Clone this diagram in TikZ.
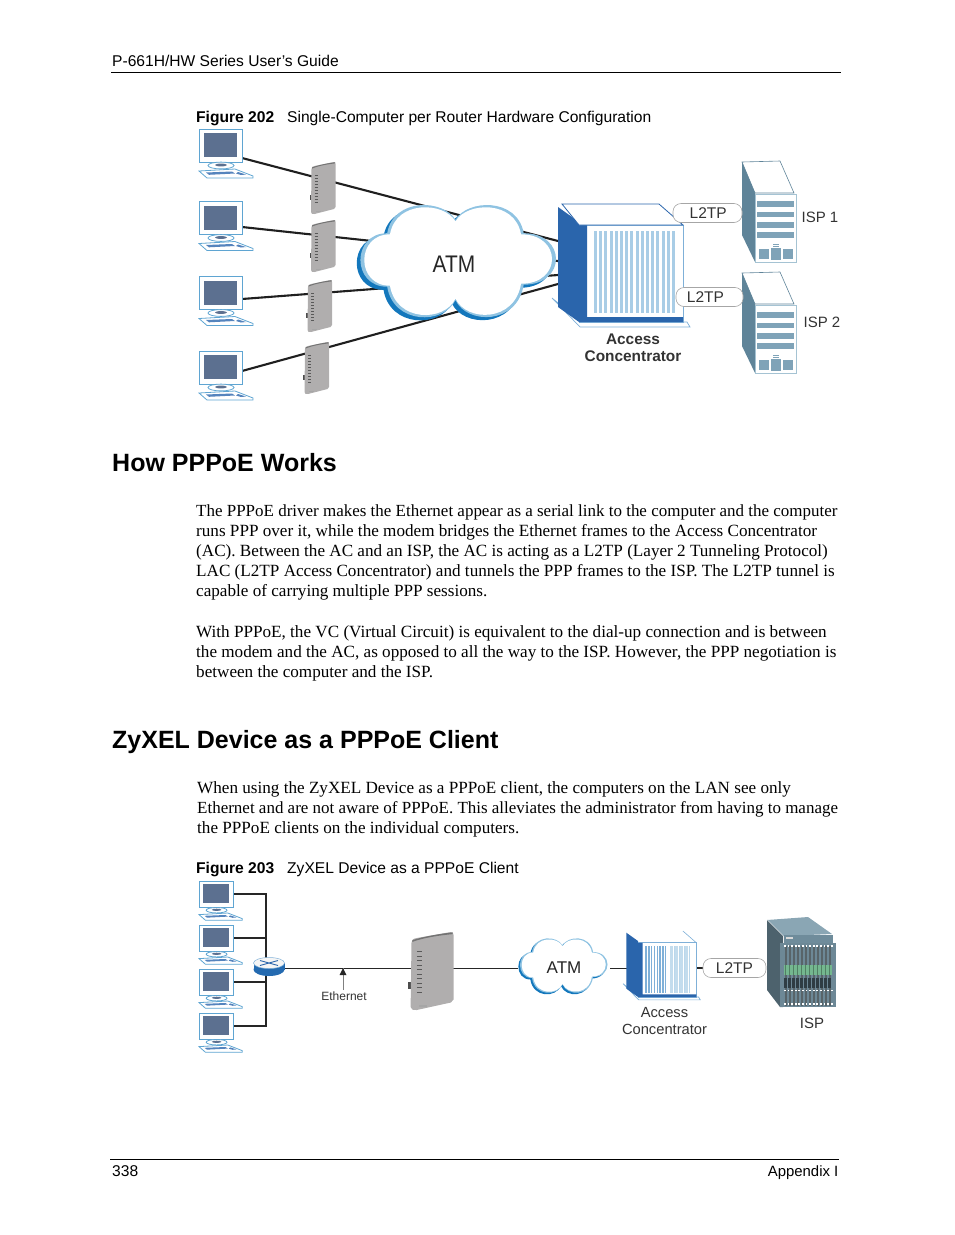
\documentclass[tikz,border=0pt]{standalone}
\usepackage{fontspec}
\setmainfont{Liberation Serif}
\newfontfamily\arialf{Liberation Sans}
\definecolor{pcblue}{HTML}{5FA5D2}
\definecolor{screen}{HTML}{5C7090}
\definecolor{cldark}{HTML}{1377BC}
\definecolor{cllight}{HTML}{8FC3E2}
\definecolor{acdark}{HTML}{2A65AC}
\definecolor{acbar}{HTML}{A9CDE6}
\definecolor{acline}{HTML}{7FB0D8}
\definecolor{srvside}{HTML}{5F8499}
\definecolor{srvbar}{HTML}{7FA3B8}
\definecolor{srvline}{HTML}{A5C3D3}
\definecolor{modem}{HTML}{B0AEAE}
\definecolor{racktop}{HTML}{8AA6B4}
\definecolor{rackside}{HTML}{4D626D}
\definecolor{rackhead}{HTML}{6F8C9B}
\definecolor{rackbody}{HTML}{6D8896}
\definecolor{rackgreen}{HTML}{74B78F}
\definecolor{rackdark}{HTML}{2F3D44}
\tikzset{
  x=1pt,y=-1pt,
  wire/.style={draw=black!88,line width=2.1pt},
  wire2/.style={draw=black!85,line width=1.5pt},
  pill/.style={draw=black!35,fill=white,rounded corners=8pt,line width=.6pt,minimum height=19pt,inner sep=0pt,font=\arialf\fontsize{15.5}{18}\selectfont,text=black!80},
  t/.style={inner sep=0pt,anchor=base west},
  bodyt/.style={t,font=\fontsize{17.13}{20}\selectfont},
  bodytight/.style={t,font=\fontsize{16.98}{20}\selectfont},
  sans/.style={t,font=\arialf\fontsize{15.6}{18}\selectfont},
  head/.style={t,font=\arialf\bfseries\fontsize{25}{30}\selectfont},
  lab/.style={inner sep=0pt,font=\arialf\fontsize{15}{18}\selectfont,text=black!80}
}
\newcommand{\pcicon}[4]{%
\begin{scope}[shift={(#2,#3)},scale=#4]
 \path[draw=pcblue,fill=white,line width=.9pt] (0,0) rectangle (43,33);
 \fill[screen] (5,4) rectangle (38,28);
 \path[draw=pcblue,fill=white,line width=.8pt] (22,36.5) ellipse (13 and 3.4);
 \fill[screen] (22,36) ellipse (6 and 1.4);
 \path[draw=pcblue,fill=white,line width=.8pt] (0,42)--(36,40)--(54,47)--(54,49)--(8,49)--cycle;
 \fill[acdark!80] (7,43.5)--(33,42.5)--(36,44.5)--(10,45.8)--cycle;
 \fill[acdark!80] (39,43)--(47,45.5)--(42,46)--(37,44.5)--cycle;
 \coordinate (#1) at (43,29);
\end{scope}}
\newcommand{\modemicon}[4]{%
\begin{scope}[shift={(#2,#3)},#4]
 \fill[black!70] (.2,33) rectangle (2,38);
 \path[fill=modem] (2,7) .. controls (2,5) and (3,4.5) .. (5,4) -- (24.5,0) .. controls (25.5,-.2) and (26,.5) .. (26,2) -- (26,45) -- (24.5,47) -- (5,52) .. controls (3,52) and (1.5,52) .. (1.5,50) -- cycle;
 \fill[black!55] (2.5,5.5) .. controls (8,3.2) and (20,.8) .. (25.5,.3) -- (25.5,1.4) .. controls (18,2.2) and (8,4) .. (2.5,6.6) -- cycle;
 \foreach \k in {0,...,9} \draw[black!65,line width=.7pt] (5,{13+3*\k}) -- (8,{13+3*\k});
 \fill[black!35] (6,48.5) rectangle (11,50);
\end{scope}}
\newcommand{\cloudpath}{(-1,-40) .. controls (-12,-60) and (-60,-62) .. (-66,-27) .. controls (-100,-27) and (-100,25) .. (-66,25) .. controls (-60,62) and (-12,62) .. (-1,38) .. controls (10,62) and (58,62) .. (64,23) .. controls (105,23) and (105,-27) .. (64,-27) .. controls (58,-62) and (10,-60) .. (-1,-40) -- cycle}
\newcommand{\cloudicon}[4]{%
\begin{scope}[shift={(#1,#2)},xscale=#3,yscale=#4]
 \begin{scope}[shift={(-3.5,3)}]\fill[cldark] \cloudpath;\end{scope}
 \fill[cllight] \cloudpath;
 \begin{scope}[scale=.96]\fill[white] \cloudpath;\end{scope}
\end{scope}}
\newcommand{\acicon}[4]{%
\begin{scope}[shift={(#1,#2)},scale=#3]
 \path[draw=acline,fill=white,line width=.7pt] (0,94)--(28,123)--(138,123)--(135,118)--(30,118)--cycle;
 \fill[acdark] (6,3)--(27,18)--(27,118)--(6,103)--cycle;
 \path[draw=acline,fill=white,line width=.7pt] (27,21) rectangle (131,118);
 \fill[acdark] (27,21)--(35,21)--(35,113)--(131,113)--(131,118)--(27,118)--cycle;
 #4
\end{scope}}
\newcommand{\srvicon}[2]{%
\begin{scope}[shift={(#1,#2)}]
 \path[draw=srvside,fill=white,line width=.6pt] (0,0)--(38,-1)--(52,31)--(13,31)--cycle;
 \fill[srvside] (0,0)--(13,31)--(13,100)--(0,73)--cycle;
 \path[draw=srvline,fill=white,line width=1pt] (13,32) rectangle (54,100);
 \foreach \a/\b in {38.5/45,50/55,60/66,70/76} \fill[srvbar] (15,\a) rectangle (52,\b);
 \fill[srvbar] (17,87) rectangle (27,97);
 \fill[srvbar] (29,86) rectangle (39,98);
 \fill[srvbar] (41,87) rectangle (51,97);
 \draw[srvbar,line width=.7pt] (31,82)--(37,82) (31,84)--(37,84);
\end{scope}}
\begin{document}
\begin{tikzpicture}
\useasboundingbox (0,0) rectangle (954,1235);
% page furniture
\node[sans] (hdr) at (112,66) {P-661H/HW Series User’s Guide};
\draw[line width=.8pt] (111,72.5) -- (841,72.5);
\node[sans] (c1a) at (196,122) {\bfseries Figure 202};
\node[sans] (c1b) at (287,122) {Single-Computer per Router Hardware Configuration};
\node[head] (h1) at (112,471) {How PPPoE Works};
\node[bodytight] (b1) at (196,516) {The PPPoE driver makes the Ethernet appear as a serial link to the computer and the computer};
\node[bodyt] (b2) at (196,536) {runs PPP over it, while the modem bridges the Ethernet frames to the Access Concentrator};
\node[bodyt] (b3) at (196,556) {(AC). Between the AC and an ISP, the AC is acting as a L2TP (Layer 2 Tunneling Protocol)};
\node[bodyt] (b4) at (196,576) {LAC (L2TP Access Concentrator) and tunnels the PPP frames to the ISP. The L2TP tunnel is};
\node[bodyt] (b5) at (196,596) {capable of carrying multiple PPP sessions.};
\node[bodyt] (b6) at (196,637) {With PPPoE, the VC (Virtual Circuit) is equivalent to the dial-up connection and is between};
\node[bodyt] (b7) at (196,657) {the modem and the AC, as opposed to all the way to the ISP. However, the PPP negotiation is};
\node[bodyt] (b8) at (196,677) {between the computer and the ISP.};
\node[head] (h2) at (112,748) {ZyXEL Device as a PPPoE Client};
\node[bodyt] (b9) at (197,793) {When using the ZyXEL Device as a PPPoE client, the computers on the LAN see only};
\node[bodytight] (b10) at (197,813) {Ethernet and are not aware of PPPoE. This alleviates the administrator from having to manage};
\node[bodyt] (b11) at (197,833) {the PPPoE clients on the individual computers.};
\node[sans] (c2a) at (196,873) {\bfseries Figure 203};
\node[sans] (c2b) at (287,873) {ZyXEL Device as a PPPoE Client};
\draw[line width=.8pt] (110,1159.5) -- (839,1159.5);
\node[sans] (pg) at (112,1176) {338};
\node[sans,anchor=base east,font=\arialf\fontsize{14.9}{18}\selectfont] (app) at (838.5,1176) {Appendix I};
% ---------- Figure 202 ----------
\coordinate (a1) at (558,241);
\coordinate (a2) at (558,261);
\coordinate (a3) at (558,275);
\coordinate (a4) at (558,284);
\coordinate (p1) at (242,158);
\coordinate (p2) at (242,227);
\coordinate (p3) at (242,299);
\coordinate (p4) at (242,371);
\draw[wire] (p1) -- (a1);
\draw[wire] (p2) -- (a2);
\draw[wire] (p3) -- (a3);
\draw[wire] (p4) -- (a4);
\pcicon{pc1}{199}{129}{1}
\pcicon{pc2}{199}{201.5}{1}
\pcicon{pc3}{199}{276.5}{1}
\pcicon{pc4}{199}{351}{1}
\modemicon{m1}{309.5}{162}{scale=1}
\modemicon{m2}{309.5}{220}{scale=1}
\modemicon{m3}{306}{280}{scale=1}
\modemicon{m4}{303}{342}{scale=1}
\cloudicon{456.5}{261}{1.05}{1.03}
\node[inner sep=0pt,font=\arialf\fontsize{24}{28}\selectfont,text=black!85] (atm1) at (454,264) {\scalebox{.87}[1]{ATM}};
\acicon{552}{204}{1}{
 \path[draw=acdark,fill=white,line width=.8pt] (10,0)--(107,0)--(131,21)--(27,21)--cycle;
 \foreach \k in {0,...,15} \fill[acbar] ({42+5.2*\k},27) rectangle ++(3,82);
}
\srvicon{742}{162}
\srvicon{742}{273}
\node[pill,minimum width=69pt] (l1) at (707.5,213) {\hspace{1.5pt}L2TP};
\node[pill,minimum width=67pt] (l2) at (709.5,297) {\hspace{-8pt}L2TP};
\node[lab] (i1) at (820,217) {ISP 1};
\node[lab] (i2) at (822,322) {ISP 2};
\node[lab,font=\arialf\bfseries\fontsize{15.4}{18}\selectfont] (ac1a) at (633,339) {Access};
\node[lab,font=\arialf\bfseries\fontsize{15.4}{18}\selectfont] (ac1b) at (633,356) {Concentrator};
% ---------- Figure 203 ----------
\coordinate (q1) at (234,894);
\coordinate (q2) at (234,938);
\coordinate (q3) at (234,982);
\coordinate (q4) at (234,1026);
\coordinate (bus) at (266,894);
\coordinate (bus4) at (266,1026);
\coordinate (busb) at (266,938);
\coordinate (busc) at (266,982);
\coordinate (rt) at (269,968.5);
\coordinate (md) at (412,968.5);
\coordinate (md2) at (452,968.5);
\coordinate (cl) at (518,968.5);
\coordinate (cl2) at (610,968.5);
\coordinate (ac2) at (627,968.5);
\coordinate (ac3) at (695,968);
\coordinate (l3w) at (703,968);
\draw[wire2] (q1) -- (bus) -- (bus4) -- (q4);
\draw[wire2] (q2) -- (busb);
\draw[wire2] (q3) -- (busc);
\draw[wire2] (rt) -- (md);
\draw[wire2] (md2) -- (cl);
\draw[wire2] (cl2) -- (ac2);
\draw[wire2] (ac3) -- (l3w);
\pcicon{r1}{199}{881}{.8}
\pcicon{r2}{199}{925}{.8}
\pcicon{r3}{199}{969}{.8}
\pcicon{r4}{199}{1013}{.8}
% router
\fill[acdark!75!cldark] (269,969.5) ellipse (15.5 and 6.5);
\fill[acdark!75!cldark] (253.5,963) rectangle (284.5,969.5);
\path[draw=acline,fill=black!4,line width=.5pt] (269,963) ellipse (15.5 and 5.5);
\draw[acdark,line width=.9pt] (260,960.5) -- (278,965.5) (260,965.5) -- (278,960.5);
\modemicon{m5}{408}{932}{xscale=1.75,yscale=1.5}
% Ethernet pointer
\coordinate (ethtip) at (343,968);
\coordinate (ethend) at (343,990);
\draw[black!50,line width=.5pt] (ethend) -- (ethtip);
\fill[black!85] (ethtip) -- (339.5,975) -- (346.5,975) -- cycle;
\node[inner sep=0pt,font=\arialf\fontsize{12}{14}\selectfont,text=black!80] (eth) at (344,996) {Ethernet};
\cloudicon{563}{965.5}{.47}{.5}
\node[inner sep=0pt,font=\arialf\fontsize{17}{20}\selectfont,text=black!85] (atm2) at (564,968) {ATM};
\acicon{623}{931}{.56}{
 \draw[acline,line width=.6pt] (107,0)--(131,21);
 \foreach \k in {0,...,7} \fill[acline] ({40+5*\k},26) rectangle ++(2.4,84);
 \foreach \k in {0,...,3} \fill[acbar!70!white] ({84+9*\k},26) rectangle ++(5,84);
 \foreach \k in {0,...,3} \fill[acbar!80] ({90.5+9*\k},26) rectangle ++(1.6,84);
}
\node[pill,minimum width=63pt] (l3) at (734.5,968) {L2TP};
% ISP rack
\fill[racktop] (767,920)--(808,917)--(832,934)--(783,936)--cycle;
\draw[white,line width=.8pt] (767,920)--(783,936);
\fill[rackside] (767,920)--(783,936)--(783,1007)--(780,1007)--(767,990)--cycle;
\fill[rackhead] (784,935) rectangle (833,943);
\fill[white!85!black] (786,937) rectangle (793,939);
\fill[rackbody] (780,943) rectangle (836,1007);
\foreach \k in {0,...,11} \fill[rackdark!80] ({785+4*\k},946) rectangle ++(1.5,60);
\fill[rackgreen] (784,965) rectangle (832,975);
\foreach \k in {0,...,11} \fill[rackgreen!70!black] ({785+4*\k},965) rectangle ++(1,10);
\fill[rackdark] (784,978) rectangle (832,988);
\foreach \k in {0,...,11} \fill[rackbody] ({787+4*\k},978) rectangle ++(1,10);
\foreach \k in {0,...,13} \fill[white] ({784+3.6*\k},945) rectangle ++(1.8,1.6);
\foreach \k in {0,...,13} \fill[white] ({784+3.6*\k},989.5) rectangle ++(1.8,1.6);
\foreach \k in {0,...,13} \fill[white] ({784+3.6*\k},1003) rectangle ++(1.8,1.6);
\node[lab,font=\arialf\fontsize{14.7}{18}\selectfont] (ac2a) at (664.5,1013) {Access};
\node[lab,font=\arialf\fontsize{14.7}{18}\selectfont] (ac2b) at (664.5,1029) {Concentrator};
\node[lab] (isp) at (812,1023) {ISP};
\end{tikzpicture}
\end{document}
